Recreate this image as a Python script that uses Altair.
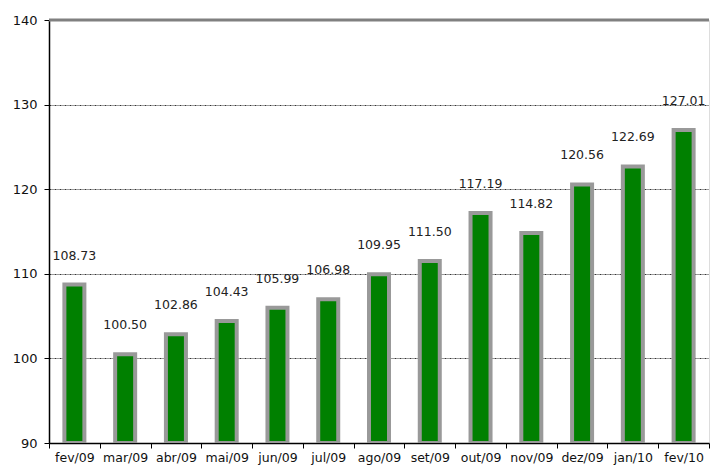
import altair as alt
import pandas as pd

months = ["fev/09", "mar/09", "abr/09", "mai/09", "jun/09", "jul/09", "ago/09",
          "set/09", "out/09", "nov/09", "dez/09", "jan/10", "fev/10"]
values = [108.73, 100.50, 102.86, 104.43, 105.99, 106.98, 109.95,
          111.50, 117.19, 114.82, 120.56, 122.69, 127.01]
y_ticks = [90, 100, 110, 120, 130, 140]

df = pd.DataFrame({"month": months, "value": values})
df["label"] = [f"{v:.2f}" for v in values]

FONT = "DejaVu Sans"
YS = alt.Scale(domain=[90, 140], zero=False, nice=False)

x = alt.X("month:N", sort=months, title=None,
          scale=alt.Scale(paddingInner=0, paddingOuter=0),
          axis=alt.Axis(labelAngle=0, labelFont=FONT, labelFontSize=12.5,
                        labelColor="#111", domainColor="#000", domainWidth=1.5,
                        tickColor="#000", tickSize=5, tickBand="extent",
                        labelPadding=3, grid=False))
y = alt.Y("value:Q", title=None, scale=YS,
          axis=alt.Axis(values=y_ticks, labelFont=FONT, labelFontSize=13,
                        labelColor="#111", domainColor="#000", domainWidth=1.5,
                        tickColor="#000", tickSize=5, labelPadding=7,
                        grid=True, gridColor="#000", gridDash=[2, 1, 1, 1],
                        gridWidth=0.8))

base = alt.Chart(df)

axes_layer = base.mark_bar(opacity=0).encode(x=x, y=y)

bars = base.mark_bar(color="#008000", stroke="#999999", strokeWidth=4,
                     size=20, clip=True).encode(
    x=x, y=alt.Y("value:Q", scale=YS), y2=alt.datum(90))

labels = base.mark_text(font=FONT, fontSize=12.5, color="#222", dy=-22,
                        baseline="bottom").encode(
    x=x, y=alt.Y("value:Q", scale=YS), text="label:N")

top = alt.Chart(pd.DataFrame({"v": [140]})).mark_rule(
    color="#808080", strokeWidth=3).encode(y=alt.Y("v:Q", scale=YS))

chart = alt.layer(axes_layer, bars, labels, top).properties(
    width=660, height=423,
    autosize=alt.AutoSizeParams(type="none"),
    padding={"left": 41, "top": 12, "right": 2, "bottom": 22},
).configure_view(stroke=None).configure(background="white")

chart.save("out.html", embed_options={"renderer": "svg", "actions": False})
